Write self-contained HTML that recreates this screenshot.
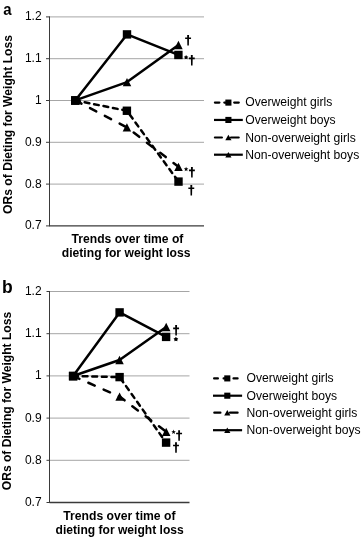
<!DOCTYPE html>
<html><head><meta charset="utf-8"><style>
html,body{margin:0;padding:0;background:#fff;}
svg{display:block;font-family:"Liberation Sans", sans-serif;will-change:transform;}
text{fill:#000;}
</style></head><body>
<svg width="361" height="537" viewBox="0 0 361 537">
<rect width="361" height="537" fill="#fff"/>
<line x1="49.5" y1="16.9" x2="204" y2="16.9" stroke="#a6a6a6" stroke-width="1"/>
<line x1="49.5" y1="58.7" x2="204" y2="58.7" stroke="#a6a6a6" stroke-width="1"/>
<line x1="49.5" y1="100.5" x2="204" y2="100.5" stroke="#a6a6a6" stroke-width="1"/>
<line x1="49.5" y1="142.3" x2="204" y2="142.3" stroke="#a6a6a6" stroke-width="1"/>
<line x1="49.5" y1="184.1" x2="204" y2="184.1" stroke="#a6a6a6" stroke-width="1"/>
<line x1="46" y1="16.9" x2="49.5" y2="16.9" stroke="#3a3a3a" stroke-width="1"/>
<line x1="46" y1="58.7" x2="49.5" y2="58.7" stroke="#3a3a3a" stroke-width="1"/>
<line x1="46" y1="100.5" x2="49.5" y2="100.5" stroke="#3a3a3a" stroke-width="1"/>
<line x1="46" y1="142.3" x2="49.5" y2="142.3" stroke="#3a3a3a" stroke-width="1"/>
<line x1="46" y1="184.1" x2="49.5" y2="184.1" stroke="#3a3a3a" stroke-width="1"/>
<line x1="46" y1="225.9" x2="49.5" y2="225.9" stroke="#3a3a3a" stroke-width="1"/>
<line x1="49.5" y1="225.9" x2="204" y2="225.9" stroke="#3a3a3a" stroke-width="1.3"/>
<line x1="49.5" y1="16.4" x2="49.5" y2="226.4" stroke="#3a3a3a" stroke-width="1"/>
<text x="41.6" y="20.30" text-anchor="end" font-size="12">1.2</text>
<text x="41.6" y="62.10" text-anchor="end" font-size="12">1.1</text>
<text x="41.6" y="103.90" text-anchor="end" font-size="12">1</text>
<text x="41.6" y="145.70" text-anchor="end" font-size="12">0.9</text>
<text x="41.6" y="187.50" text-anchor="end" font-size="12">0.8</text>
<text x="41.6" y="229.30" text-anchor="end" font-size="12">0.7</text>
<text transform="translate(3.2,14.6) scale(0.88,1)" font-size="17" font-weight="bold">a</text>
<text transform="translate(11.9,124.5) rotate(-90)" text-anchor="middle" font-size="12" font-weight="bold" textLength="178.9" lengthAdjust="spacingAndGlyphs">ORs of Dieting for Weight Loss</text>
<text x="71.6" y="242.6" font-size="12" font-weight="bold" textLength="111.8" lengthAdjust="spacingAndGlyphs">Trends over time of</text>
<text x="61.8" y="257.3" font-size="12" font-weight="bold" textLength="128.7" lengthAdjust="spacingAndGlyphs">dieting for weight loss</text>
<polyline points="75.25,100.4 126.9,110.75 178.5,181.6" fill="none" stroke="#000" stroke-width="2.5" stroke-linejoin="round" stroke-linecap="round" stroke-dasharray="4.8 4.8"/>
<polyline points="75.25,100.4 127.0,34.4 178.4,54.95" fill="none" stroke="#000" stroke-width="2.5" stroke-linejoin="round"/>
<polyline points="75.25,100.4 126.9,127.4 178.5,166.8" fill="none" stroke="#000" stroke-width="2.5" stroke-linejoin="round" stroke-linecap="round" stroke-dasharray="7 9.7"/>
<polyline points="75.25,100.4 127.0,82.1 178.45,45.0" fill="none" stroke="#000" stroke-width="2.5" stroke-linejoin="round"/>
<rect x="71.05" y="96.20" width="8.4" height="8.4" fill="#000"/>
<rect x="122.70" y="106.55" width="8.4" height="8.4" fill="#000"/>
<rect x="174.30" y="177.40" width="8.4" height="8.4" fill="#000"/>
<rect x="71.05" y="96.20" width="8.4" height="8.4" fill="#000"/>
<rect x="122.80" y="30.20" width="8.4" height="8.4" fill="#000"/>
<rect x="174.20" y="50.75" width="8.4" height="8.4" fill="#000"/>
<polygon points="75.25,96.25 79.50,104.55 71.00,104.55" fill="#000"/>
<polygon points="126.90,123.25 131.15,131.55 122.65,131.55" fill="#000"/>
<polygon points="178.50,162.65 182.75,170.95 174.25,170.95" fill="#000"/>
<polygon points="75.25,96.25 79.50,104.55 71.00,104.55" fill="#000"/>
<polygon points="127.00,77.95 131.25,86.25 122.75,86.25" fill="#000"/>
<polygon points="178.45,40.85 182.70,49.15 174.20,49.15" fill="#000"/>
<path d="M187.15,34.90 L189.05,34.90 L188.86,45.40 L187.34,45.40 Z M185.15,37.40 L191.05,37.40 L191.05,39.00 L185.15,39.00 Z" fill="#000"/>
<path d="M190.85,55.10 L192.75,55.10 L192.56,65.60 L191.04,65.60 Z M188.85,57.60 L194.75,57.60 L194.75,59.20 L188.85,59.20 Z" fill="#000"/>
<path d="M190.95,167.10 L192.85,167.10 L192.66,177.60 L191.14,177.60 Z M188.95,169.60 L194.85,169.60 L194.85,171.20 L188.95,171.20 Z" fill="#000"/>
<path d="M190.35,184.90 L192.25,184.90 L192.06,195.40 L190.54,195.40 Z M188.35,187.40 L194.25,187.40 L194.25,189.00 L188.35,189.00 Z" fill="#000"/>
<polygon points="186.10,55.00 186.86,56.35 188.38,56.66 187.34,57.80 187.51,59.34 186.10,58.70 184.69,59.34 184.86,57.80 183.82,56.66 185.34,56.35" fill="#000"/>
<polygon points="186.10,166.80 186.72,168.35 188.38,168.46 187.10,169.52 187.51,171.14 186.10,170.25 184.69,171.14 185.10,169.52 183.82,168.46 185.48,168.35" fill="#000"/>
<line x1="214.9" y1="102.6" x2="219.4" y2="102.6" stroke="#000" stroke-width="2.2" stroke-linecap="round"/>
<line x1="224.3" y1="102.6" x2="226" y2="102.6" stroke="#000" stroke-width="2.2" stroke-linecap="round"/>
<line x1="234.2" y1="102.6" x2="238.8" y2="102.6" stroke="#000" stroke-width="2.2" stroke-linecap="round"/>
<rect x="225.35" y="99.55" width="6.1" height="6.1" fill="#000"/>
<text x="245.2" y="106.10" font-size="12" textLength="87.06" lengthAdjust="spacingAndGlyphs">Overweight girls</text>
<line x1="214" y1="119.95" x2="242.8" y2="119.95" stroke="#000" stroke-width="2.2"/>
<rect x="225.35" y="116.90" width="6.1" height="6.1" fill="#000"/>
<text x="245.2" y="124.00" font-size="12" textLength="90.45" lengthAdjust="spacingAndGlyphs">Overweight boys</text>
<line x1="214.9" y1="137.5" x2="221.9" y2="137.5" stroke="#000" stroke-width="2.2" stroke-linecap="round"/>
<line x1="231" y1="137.5" x2="238.7" y2="137.5" stroke="#000" stroke-width="2.2" stroke-linecap="round"/>
<polygon points="228.40,134.80 231.50,140.20 225.30,140.20" fill="#000"/>
<text x="245.2" y="141.70" font-size="12" textLength="110.69" lengthAdjust="spacingAndGlyphs">Non-overweight girls</text>
<line x1="214" y1="154.7" x2="242.8" y2="154.7" stroke="#000" stroke-width="2.2"/>
<polygon points="228.40,152.00 231.50,157.40 225.30,157.40" fill="#000"/>
<text x="245.2" y="158.60" font-size="12" textLength="114.08" lengthAdjust="spacingAndGlyphs">Non-overweight boys</text>
<line x1="49.5" y1="291.5" x2="189.5" y2="291.5" stroke="#a6a6a6" stroke-width="1"/>
<line x1="49.5" y1="333.7" x2="189.5" y2="333.7" stroke="#a6a6a6" stroke-width="1"/>
<line x1="49.5" y1="375.9" x2="189.5" y2="375.9" stroke="#a6a6a6" stroke-width="1"/>
<line x1="49.5" y1="418.1" x2="189.5" y2="418.1" stroke="#a6a6a6" stroke-width="1"/>
<line x1="49.5" y1="460.3" x2="189.5" y2="460.3" stroke="#a6a6a6" stroke-width="1"/>
<line x1="46.5" y1="291.5" x2="49.5" y2="291.5" stroke="#3a3a3a" stroke-width="1"/>
<line x1="46.5" y1="333.7" x2="49.5" y2="333.7" stroke="#3a3a3a" stroke-width="1"/>
<line x1="46.5" y1="375.9" x2="49.5" y2="375.9" stroke="#3a3a3a" stroke-width="1"/>
<line x1="46.5" y1="418.1" x2="49.5" y2="418.1" stroke="#3a3a3a" stroke-width="1"/>
<line x1="46.5" y1="460.3" x2="49.5" y2="460.3" stroke="#3a3a3a" stroke-width="1"/>
<line x1="46.5" y1="502.5" x2="49.5" y2="502.5" stroke="#3a3a3a" stroke-width="1"/>
<line x1="49.5" y1="502.5" x2="189.5" y2="502.5" stroke="#3a3a3a" stroke-width="1.3"/>
<line x1="49.5" y1="291.0" x2="49.5" y2="503.0" stroke="#3a3a3a" stroke-width="1"/>
<text x="41.6" y="294.90" text-anchor="end" font-size="12">1.2</text>
<text x="41.6" y="337.10" text-anchor="end" font-size="12">1.1</text>
<text x="41.6" y="379.30" text-anchor="end" font-size="12">1</text>
<text x="41.6" y="421.50" text-anchor="end" font-size="12">0.9</text>
<text x="41.6" y="463.70" text-anchor="end" font-size="12">0.8</text>
<text x="41.6" y="505.90" text-anchor="end" font-size="12">0.7</text>
<text transform="translate(2.1,292.7) scale(1,1)" font-size="17.5" font-weight="bold">b</text>
<text transform="translate(10.9,401.05) rotate(-90)" text-anchor="middle" font-size="12" font-weight="bold" textLength="178.4" lengthAdjust="spacingAndGlyphs">ORs of Dieting for Weight Loss</text>
<text x="63.3" y="520.2" font-size="12" font-weight="bold" textLength="112.2" lengthAdjust="spacingAndGlyphs">Trends over time of</text>
<text x="55.6" y="534.4" font-size="12" font-weight="bold" textLength="128.1" lengthAdjust="spacingAndGlyphs">dieting for weight loss</text>
<polyline points="73.1,376.0 119.6,377.1 166.1,442.6" fill="none" stroke="#000" stroke-width="2.5" stroke-linejoin="round" stroke-linecap="round" stroke-dasharray="4.8 4.8"/>
<polyline points="73.1,376.0 119.6,312.4 166.1,336.9" fill="none" stroke="#000" stroke-width="2.5" stroke-linejoin="round"/>
<polyline points="73.1,376.0 119.6,396.6 166.2,431.8" fill="none" stroke="#000" stroke-width="2.5" stroke-linejoin="round" stroke-linecap="round" stroke-dasharray="7 9.7"/>
<polyline points="73.1,376.0 119.5,360.0 166.2,327.0" fill="none" stroke="#000" stroke-width="2.5" stroke-linejoin="round"/>
<rect x="68.90" y="371.80" width="8.4" height="8.4" fill="#000"/>
<rect x="115.40" y="372.90" width="8.4" height="8.4" fill="#000"/>
<rect x="161.90" y="438.40" width="8.4" height="8.4" fill="#000"/>
<rect x="68.90" y="371.80" width="8.4" height="8.4" fill="#000"/>
<rect x="115.40" y="308.20" width="8.4" height="8.4" fill="#000"/>
<rect x="161.90" y="332.70" width="8.4" height="8.4" fill="#000"/>
<polygon points="73.10,371.85 77.35,380.15 68.85,380.15" fill="#000"/>
<polygon points="119.60,392.45 123.85,400.75 115.35,400.75" fill="#000"/>
<polygon points="166.20,427.65 170.45,435.95 161.95,435.95" fill="#000"/>
<polygon points="73.10,371.85 77.35,380.15 68.85,380.15" fill="#000"/>
<polygon points="119.50,355.85 123.75,364.15 115.25,364.15" fill="#000"/>
<polygon points="166.20,322.85 170.45,331.15 161.95,331.15" fill="#000"/>
<path d="M175.15,325.10 L177.05,325.10 L176.86,335.60 L175.34,335.60 Z M173.15,327.60 L179.05,327.60 L179.05,329.20 L173.15,329.20 Z" fill="#000"/>
<path d="M178.15,430.20 L180.05,430.20 L179.86,440.70 L178.34,440.70 Z M176.15,432.70 L182.05,432.70 L182.05,434.30 L176.15,434.30 Z" fill="#000"/>
<path d="M175.05,442.20 L176.95,442.20 L176.76,452.70 L175.24,452.70 Z M173.05,444.70 L178.95,444.70 L178.95,446.30 L173.05,446.30 Z" fill="#000"/>
<polygon points="175.90,336.80 176.78,338.09 178.28,338.53 177.33,339.76 177.37,341.32 175.90,340.80 174.43,341.32 174.47,339.76 173.52,338.53 175.02,338.09" fill="#000"/>
<polygon points="173.60,429.60 174.22,431.15 175.88,431.26 174.60,432.32 175.01,433.94 173.60,433.05 172.19,433.94 172.60,432.32 171.32,431.26 172.98,431.15" fill="#000"/>
<line x1="214.1" y1="378.4" x2="217.9" y2="378.4" stroke="#000" stroke-width="2.2" stroke-linecap="round"/>
<line x1="223.6" y1="378.4" x2="225" y2="378.4" stroke="#000" stroke-width="2.2" stroke-linecap="round"/>
<line x1="233.5" y1="378.4" x2="237.6" y2="378.4" stroke="#000" stroke-width="2.2" stroke-linecap="round"/>
<rect x="224.25" y="375.35" width="6.1" height="6.1" fill="#000"/>
<text x="246.6" y="381.90" font-size="12" textLength="87.06" lengthAdjust="spacingAndGlyphs">Overweight girls</text>
<line x1="213" y1="395.7" x2="242.1" y2="395.7" stroke="#000" stroke-width="2.2"/>
<rect x="224.25" y="392.65" width="6.1" height="6.1" fill="#000"/>
<text x="246.6" y="399.50" font-size="12" textLength="90.45" lengthAdjust="spacingAndGlyphs">Overweight boys</text>
<line x1="214.3" y1="412.7" x2="220.4" y2="412.7" stroke="#000" stroke-width="2.2" stroke-linecap="round"/>
<line x1="230" y1="412.7" x2="237.6" y2="412.7" stroke="#000" stroke-width="2.2" stroke-linecap="round"/>
<polygon points="227.30,410.00 230.40,415.40 224.20,415.40" fill="#000"/>
<text x="246.6" y="416.60" font-size="12" textLength="110.69" lengthAdjust="spacingAndGlyphs">Non-overweight girls</text>
<line x1="213" y1="430.2" x2="242.1" y2="430.2" stroke="#000" stroke-width="2.2"/>
<polygon points="227.30,427.50 230.40,432.90 224.20,432.90" fill="#000"/>
<text x="246.6" y="433.50" font-size="12" textLength="114.08" lengthAdjust="spacingAndGlyphs">Non-overweight boys</text>
</svg>
</body></html>
